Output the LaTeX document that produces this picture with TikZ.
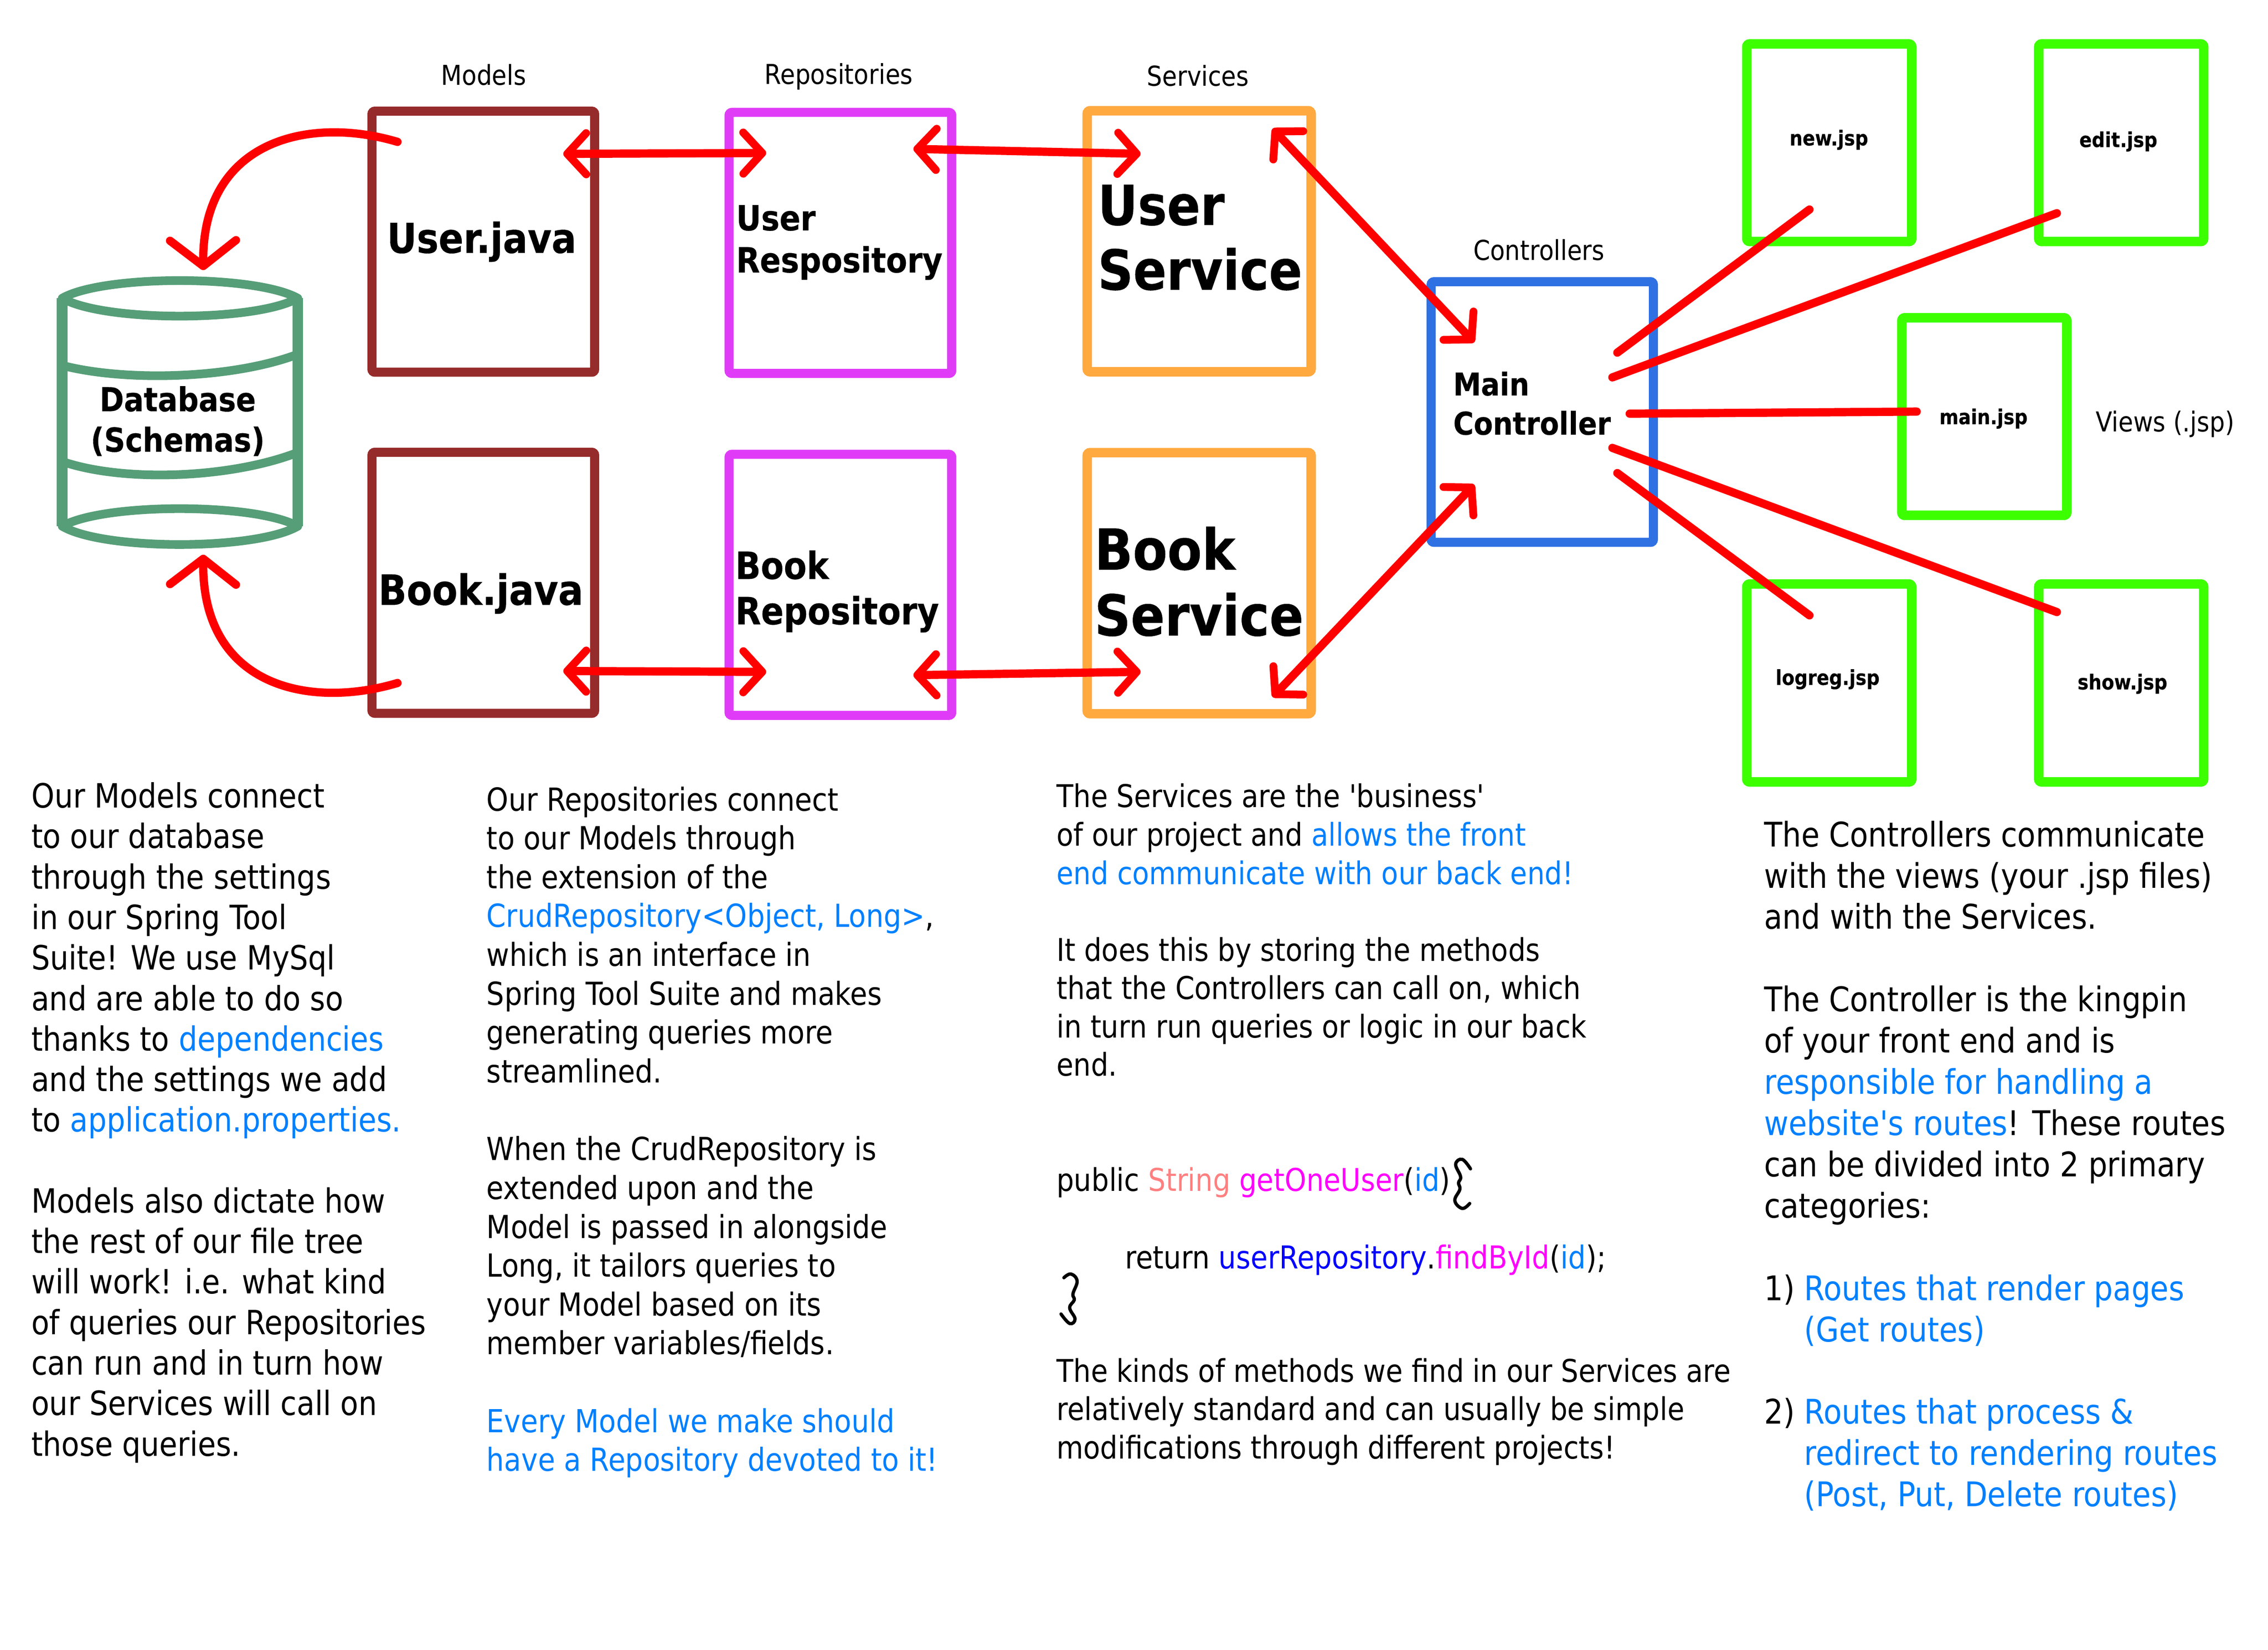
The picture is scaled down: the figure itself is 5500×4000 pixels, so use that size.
\documentclass[tikz,border=0pt]{standalone}
\usepackage{fontspec}
\usetikzlibrary{arrows.meta}
\setmainfont{DejaVu Sans}[FakeStretch=0.88,Ligatures=TeXOff]
\newfontfamily\boldface{DejaVu Sans Bold}[FakeStretch=0.89,FakeBold=0.4,Ligatures=TeXOff]
\definecolor{modelc}{HTML}{962B2B}
\definecolor{repoc}{HTML}{E03CF8}
\definecolor{servc}{HTML}{FFA93F}
\definecolor{ctrlc}{HTML}{2F70E2}
\definecolor{viewc}{HTML}{3CFF00}
\definecolor{dbc}{HTML}{569E78}
\definecolor{hl}{HTML}{0080FF}
\definecolor{strc}{HTML}{FF8080}
\definecolor{magc}{HTML}{FF00FF}
\definecolor{bluec}{HTML}{0000FF}
\newcommand{\hb}[1]{\textcolor{hl}{#1}}
\tikzset{
  box/.style={draw=#1,line width=22pt,rounded corners=7pt,inner sep=0pt,minimum width=540pt,minimum height=633pt},
  viewbox/.style={draw=viewc,line width=23pt,rounded corners=7pt,inner sep=0pt,minimum width=400pt,minimum height=479pt},
  dbline/.style={draw=dbc,line width=21pt,line join=round},
  lbl/.style={inner sep=0pt,font=\fontsize{66.5}{74}\selectfont},
  big/.style 2 args={inner sep=0pt,align=left,font=\boldface\fontsize{#1}{#2}\selectfont},
  col/.style={inner sep=0pt,anchor=north west,align=left},
  link/.style={draw=red,line width=20pt,line cap=round},
  dbl/.style={link,{Straight Barb[length=46pt,width=100pt,line width=19pt,round]}-{Straight Barb[length=46pt,width=100pt,line width=19pt,round]}},
  dbd/.style={link,-{Straight Barb[length=62pt,width=160pt,line width=20pt,round]}},
}
\begin{document}
\begin{tikzpicture}[x=1pt,y=-1pt]
\useasboundingbox (0,0) rectangle (5500,4000);
% boxes
\node[box=modelc] (user) at (1172,586) {};
\node[box=modelc] (book) at (1172,1413) {};
\node[box=repoc] (urepo) at (2038,589) {};
\node[box=repoc] (brepo) at (2038,1418) {};
\node[box=servc,minimum width=543pt,line width=23pt] (userv) at (2908,585) {};
\node[box=servc,minimum width=543pt,line width=23pt] (bserv) at (2908,1414) {};
\node[box=ctrlc,minimum width=539pt,minimum height=632pt] (ctrl) at (3740,999) {};
\node[viewbox] (new) at (4436,346) {};
\node[viewbox] (edit) at (5144,346) {};
\node[viewbox] (main) at (4812,1010) {};
\node[viewbox,minimum height=480pt] (logreg) at (4436,1656) {};
\node[viewbox,minimum height=480pt] (show) at (5144,1656) {};
% database
\coordinate (dbtl) at (151,723);
\coordinate (dbtr) at (722,723);
\coordinate (dbbl) at (151,1276);
\coordinate (dbbr) at (722,1276);
\draw[dbline] (dbtl) .. controls (250,666) and (620,666) .. (dbtr) .. controls (620,781) and (250,781) .. (dbtl) -- cycle;
\draw[dbline] (dbbl) .. controls (250,1219) and (620,1219) .. (dbbr) .. controls (620,1335) and (250,1335) .. (dbbl) -- cycle;
\draw[dbc,line width=26pt] (dbtl) -- (dbbl);
\draw[dbc,line width=26pt] (dbtr) -- (dbbr);
\draw[dbline] (dbtl |- 0,886) .. controls (300,925) and (560,920) .. (dbtr |- 0,859);
\draw[dbline] (dbtl |- 0,1119) .. controls (300,1170) and (560,1160) .. (dbtr |- 0,1097);
% labels
\node[lbl] (lmodels) at (1173,182) {Models};
\node[lbl] (lrepos) at (2034,186) {Repositories};
\node[lbl] (lserv) at (2905,184) {Services};
\node[lbl] (lctrl) at (3732,606) {Controllers};
\node[lbl,anchor=west] (lviews) at (5082,1028) {Views (.jsp)};
\node[big={100}{120}] (tuser) at (1168,586) {User.java};
\node[big={101}{120}] (tbook) at (1166,1439) {Book.java};
\node[big={84}{102},anchor=west] (turepo) at (1785,588) {User\\Respository};
\node[big={91}{110},anchor=west] (tbrepo) at (1783,1434) {Book\\Repository};
\node[big={134}{157},anchor=west] (tuserv) at (2662,576) {User\\Service};
\node[big={137}{160},anchor=west] (tbserv) at (2654,1410) {Book\\Service};
\node[big={76}{95},anchor=west] (tctrl) at (3524,978) {Main\\Controller};
\node[big={80}{98},align=center] (tdb) at (431,1021) {Database\\(Schemas)};
\node[big={50}{60}] (tnew) at (4435,339) {new.jsp};
\node[big={50}{60}] (tedit) at (5137,343) {edit.jsp};
\node[big={50}{60}] (tmain) at (4810,1015) {main.jsp};
\node[big={50}{60}] (tlog) at (4432,1647) {logreg.jsp};
\node[big={50}{60}] (tshow) at (5147,1658) {show.jsp};
% connectors
\coordinate (ua) at (964,344);
\coordinate (ub) at (493,655);
\draw[dbd] (ua) .. controls (750,280) and (490,340) .. (ub);
\coordinate (ba) at (964,1656);
\coordinate (bb) at (493,1345);
\draw[dbd] (ba) .. controls (750,1720) and (490,1665) .. (bb);
\coordinate (a1) at (1366,373); \coordinate (a2) at (1858,371);
\draw[dbl] (a1) -- (a2);
\coordinate (a3) at (2215,361); \coordinate (a4) at (2766,373);
\draw[dbl] (a3) -- (a4);
\coordinate (a5) at (1366,1627); \coordinate (a6) at (1858,1629);
\draw[dbl] (a5) -- (a6);
\coordinate (a7) at (2215,1637); \coordinate (a8) at (2766,1629);
\draw[dbl] (a7) -- (a8);
\coordinate (a9) at (3086,312); \coordinate (a10) at (3575,830);
\draw[dbl] (a9) -- (a10);
\coordinate (a11) at (3086,1690); \coordinate (a12) at (3575,1175);
\draw[dbl] (a11) -- (a12);
\coordinate (c1) at (3922,855); \coordinate (v1) at (4388,508);
\draw[link] (c1) -- (v1);
\coordinate (c2) at (3910,915); \coordinate (v2) at (4988,517);
\draw[link] (c2) -- (v2);
\coordinate (c3) at (3952,1003); \coordinate (v3) at (4648,998);
\draw[link] (c3) -- (v3);
\coordinate (c4) at (3910,1086); \coordinate (v4) at (4988,1484);
\draw[link] (c4) -- (v4);
\coordinate (c5) at (3922,1147); \coordinate (v5) at (4388,1492);
\draw[link] (c5) -- (v5);
% text columns
\node[col,font=\fontsize{81}{98.2}\selectfont] (col1) at (76,1897) {Our Models connect\\to our database\\through the settings\\in our Spring Tool\\Suite! We use MySql\\and are able to do so\\thanks to \hb{dependencies}\\and the settings we add\\to \hb{application.properties.}\\\mbox{}\\Models also dictate how\\the rest of our file tree\\will work! i.e. what kind\\of queries our Repositories\\can run and in turn how\\our Services will call on\\those queries.};
\node[col,font=\fontsize{77}{94.2}\selectfont] (col2) at (1180,1907) {Our Repositories connect\\to our Models through\\the extension of the\\\hb{CrudRepository<Object, Long>},\\which is an interface in\\Spring Tool Suite and makes\\generating queries more\\streamlined.\\\mbox{}\\When the CrudRepository is\\extended upon and the\\Model is passed in alongside\\Long, it tailors queries to\\your Model based on its\\member variables/fields.\\\mbox{}\\\hb{Every Model we make should}\\\hb{have a Repository devoted to it!}};
\node[col,font=\fontsize{76}{93}\selectfont] (col3a) at (2562,1900) {The Services are the 'business'\\of our project and \hb{allows the front}\\\hb{end communicate with our back end!}\\\mbox{}\\It does this by storing the methods\\that the Controllers can call on, which\\in turn run queries or logic in our back\\end.};
\node[col,font=\fontsize{76}{93}\selectfont] (code1) at (2562,2830) {public \textcolor{strc}{String} \textcolor{magc}{getOneUser}(\hb{id})};
\node[col,font=\fontsize{76.5}{93}\selectfont] (code2) at (2728,3018) {return \textcolor{bluec}{userRepository}.\textcolor{magc}{findById}(\hb{id});};
\node[col,font=\fontsize{76}{93}\selectfont] (col3b) at (2562,3293) {The kinds of methods we find in our Services are\\relatively standard and can usually be simple\\modifications through different projects!};
\node[col,font=\fontsize{82.3}{100}\selectfont] (col4) at (4278,1990) {The Controllers communicate\\with the views (your .jsp files)\\and with the Services.\\\mbox{}\\The Controller is the kingpin\\of your front end and is\\\hb{responsible for handling a}\\\hb{website's routes}! These routes\\can be divided into 2 primary\\categories:\\\mbox{}\\1) \hb{Routes that render pages}\\\phantom{1) }\hb{(Get routes)}\\\mbox{}\\2) \hb{Routes that process \&}\\\phantom{2) }\hb{redirect to rendering routes}\\\phantom{2) }\hb{(Post, Put, Delete routes)}};
% braces
\draw[black,line width=8pt,line cap=round] plot[smooth,tension=0.7] coordinates {(3566,2834) (3546,2811) (3530,2823) (3542,2853) (3537,2868) (3540,2884) (3528,2911) (3546,2930) (3564,2918)};
\draw[black,line width=8pt,line cap=round] plot[smooth,tension=0.7] coordinates {(2580,3098) (2597,3089) (2612,3106) (2602,3137) (2605,3152) (2594,3171) (2607,3198) (2594,3209) (2573,3186)};
\end{tikzpicture}
\end{document}
